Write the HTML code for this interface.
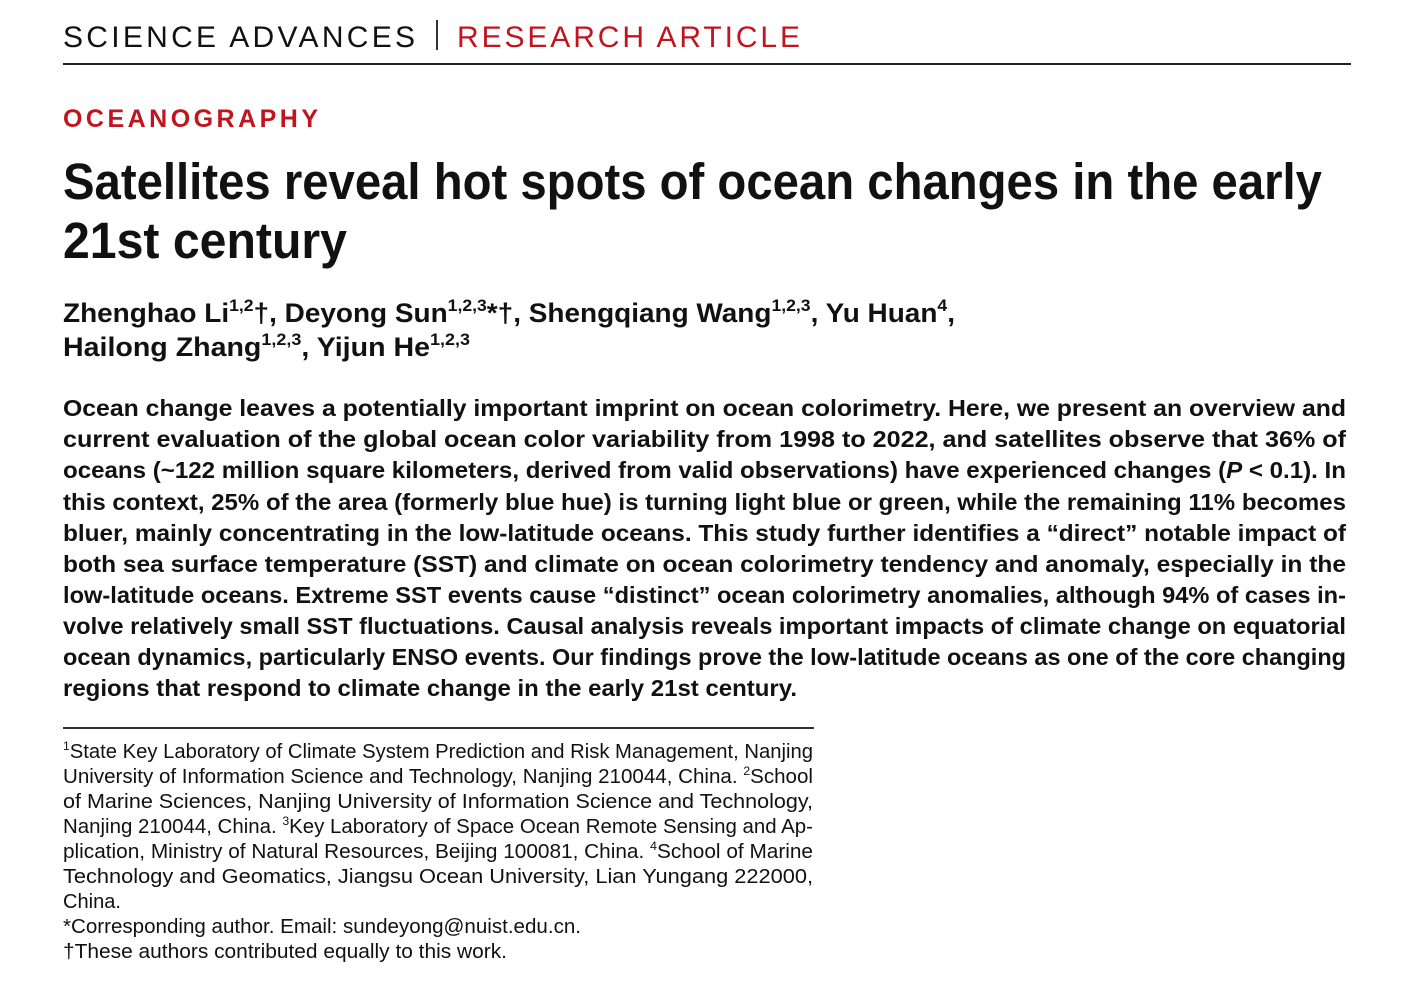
<!DOCTYPE html>
<html><head><meta charset="utf-8"><style>
html,body{margin:0;padding:0;background:#fff;width:1407px;height:998px;overflow:hidden}
svg{display:block}
text{font-family:"Liberation Sans",sans-serif;fill:#111}
.b{font-weight:bold}
</style></head><body>
<svg width="1407" height="998" viewBox="0 0 1407 998" xmlns="http://www.w3.org/2000/svg">
<text x="63" y="47" font-size="30" textLength="352" lengthAdjust="spacing">SCIENCE ADVANCES</text>
<rect x="436" y="20" width="2" height="30" fill="#333"/>
<text x="457" y="47" font-size="30" textLength="343" lengthAdjust="spacing" style="fill:#c0141e">RESEARCH ARTICLE</text>
<rect x="63" y="63" width="1288" height="2" fill="#222"/>

<text x="63" y="127" font-size="25" class="b" textLength="255" lengthAdjust="spacing" style="fill:#c0141e">OCEANOGRAPHY</text>

<text x="63" y="199" font-size="51" class="b" textLength="1259" lengthAdjust="spacingAndGlyphs">Satellites reveal hot spots of ocean changes in the early</text>
<text x="63" y="258" font-size="51" class="b" textLength="284" lengthAdjust="spacingAndGlyphs">21st century</text>

<text x="63" y="322" font-size="27" class="b" textLength="892" lengthAdjust="spacingAndGlyphs">Zhenghao Li<tspan font-size="17" dy="-11">1,2</tspan><tspan dy="11">†, Deyong Sun</tspan><tspan font-size="17" dy="-11">1,2,3</tspan><tspan dy="11">*†, Shengqiang Wang</tspan><tspan font-size="17" dy="-11">1,2,3</tspan><tspan dy="11">, Yu Huan</tspan><tspan font-size="17" dy="-11">4</tspan><tspan dy="11">,</tspan></text>
<text x="63" y="356" font-size="27" class="b" textLength="407" lengthAdjust="spacingAndGlyphs">Hailong Zhang<tspan font-size="17" dy="-11">1,2,3</tspan><tspan dy="11">, Yijun He</tspan><tspan font-size="17" dy="-11">1,2,3</tspan></text>

<g font-size="23" class="b">
<text x="63" y="416" class="b" textLength="1283" lengthAdjust="spacingAndGlyphs">Ocean change leaves a potentially important imprint on ocean colorimetry. Here, we present an overview and</text>
<text x="63" y="447" class="b" textLength="1283" lengthAdjust="spacingAndGlyphs">current evaluation of the global ocean color variability from 1998 to 2022, and satellites observe that 36% of</text>
<text x="63" y="478" class="b" textLength="1283" lengthAdjust="spacingAndGlyphs">oceans (~122 million square kilometers, derived from valid observations) have experienced changes (<tspan font-style="italic">P</tspan> &lt; 0.1). In</text>
<text x="63" y="510" class="b" textLength="1283" lengthAdjust="spacingAndGlyphs">this context, 25% of the area (formerly blue hue) is turning light blue or green, while the remaining 11% becomes</text>
<text x="63" y="541" class="b" textLength="1283" lengthAdjust="spacingAndGlyphs">bluer, mainly concentrating in the low-latitude oceans. This study further identifies a “direct” notable impact of</text>
<text x="63" y="572" class="b" textLength="1283" lengthAdjust="spacingAndGlyphs">both sea surface temperature (SST) and climate on ocean colorimetry tendency and anomaly, especially in the</text>
<text x="63" y="603" class="b" textLength="1283" lengthAdjust="spacingAndGlyphs">low-latitude oceans. Extreme SST events cause “distinct” ocean colorimetry anomalies, although 94% of cases in-</text>
<text x="63" y="634" class="b" textLength="1283" lengthAdjust="spacingAndGlyphs">volve relatively small SST fluctuations. Causal analysis reveals important impacts of climate change on equatorial</text>
<text x="63" y="665" class="b" textLength="1283" lengthAdjust="spacingAndGlyphs">ocean dynamics, particularly ENSO events. Our findings prove the low-latitude oceans as one of the core changing</text>
<text x="63" y="696" class="b" textLength="734" lengthAdjust="spacingAndGlyphs">regions that respond to climate change in the early 21st century.</text>
</g>

<rect x="63" y="727" width="751" height="2" fill="#333"/>

<g font-size="20" style="fill:#222">
<text x="63" y="758" textLength="750" lengthAdjust="spacingAndGlyphs"><tspan font-size="12" dy="-8">1</tspan><tspan dy="8">State Key Laboratory of Climate System Prediction and Risk Management, Nanjing</tspan></text>
<text x="63" y="783" textLength="750" lengthAdjust="spacingAndGlyphs">University of Information Science and Technology, Nanjing 210044, China. <tspan font-size="12" dy="-8">2</tspan><tspan dy="8">School</tspan></text>
<text x="63" y="808" textLength="750" lengthAdjust="spacingAndGlyphs">of Marine Sciences, Nanjing University of Information Science and Technology,</text>
<text x="63" y="833" textLength="750" lengthAdjust="spacingAndGlyphs">Nanjing 210044, China. <tspan font-size="12" dy="-8">3</tspan><tspan dy="8">Key Laboratory of Space Ocean Remote Sensing and Ap-</tspan></text>
<text x="63" y="858" textLength="750" lengthAdjust="spacingAndGlyphs">plication, Ministry of Natural Resources, Beijing 100081, China. <tspan font-size="12" dy="-8">4</tspan><tspan dy="8">School of Marine</tspan></text>
<text x="63" y="883" textLength="750" lengthAdjust="spacingAndGlyphs">Technology and Geomatics, Jiangsu Ocean University, Lian Yungang 222000,</text>
<text x="63" y="908" textLength="58" lengthAdjust="spacingAndGlyphs">China.</text>
<text x="63" y="933" textLength="518" lengthAdjust="spacingAndGlyphs">*Corresponding author. Email: sundeyong@nuist.edu.cn.</text>
<text x="63" y="958" textLength="444" lengthAdjust="spacingAndGlyphs">†These authors contributed equally to this work.</text>
</g>
</svg>
</body></html>
